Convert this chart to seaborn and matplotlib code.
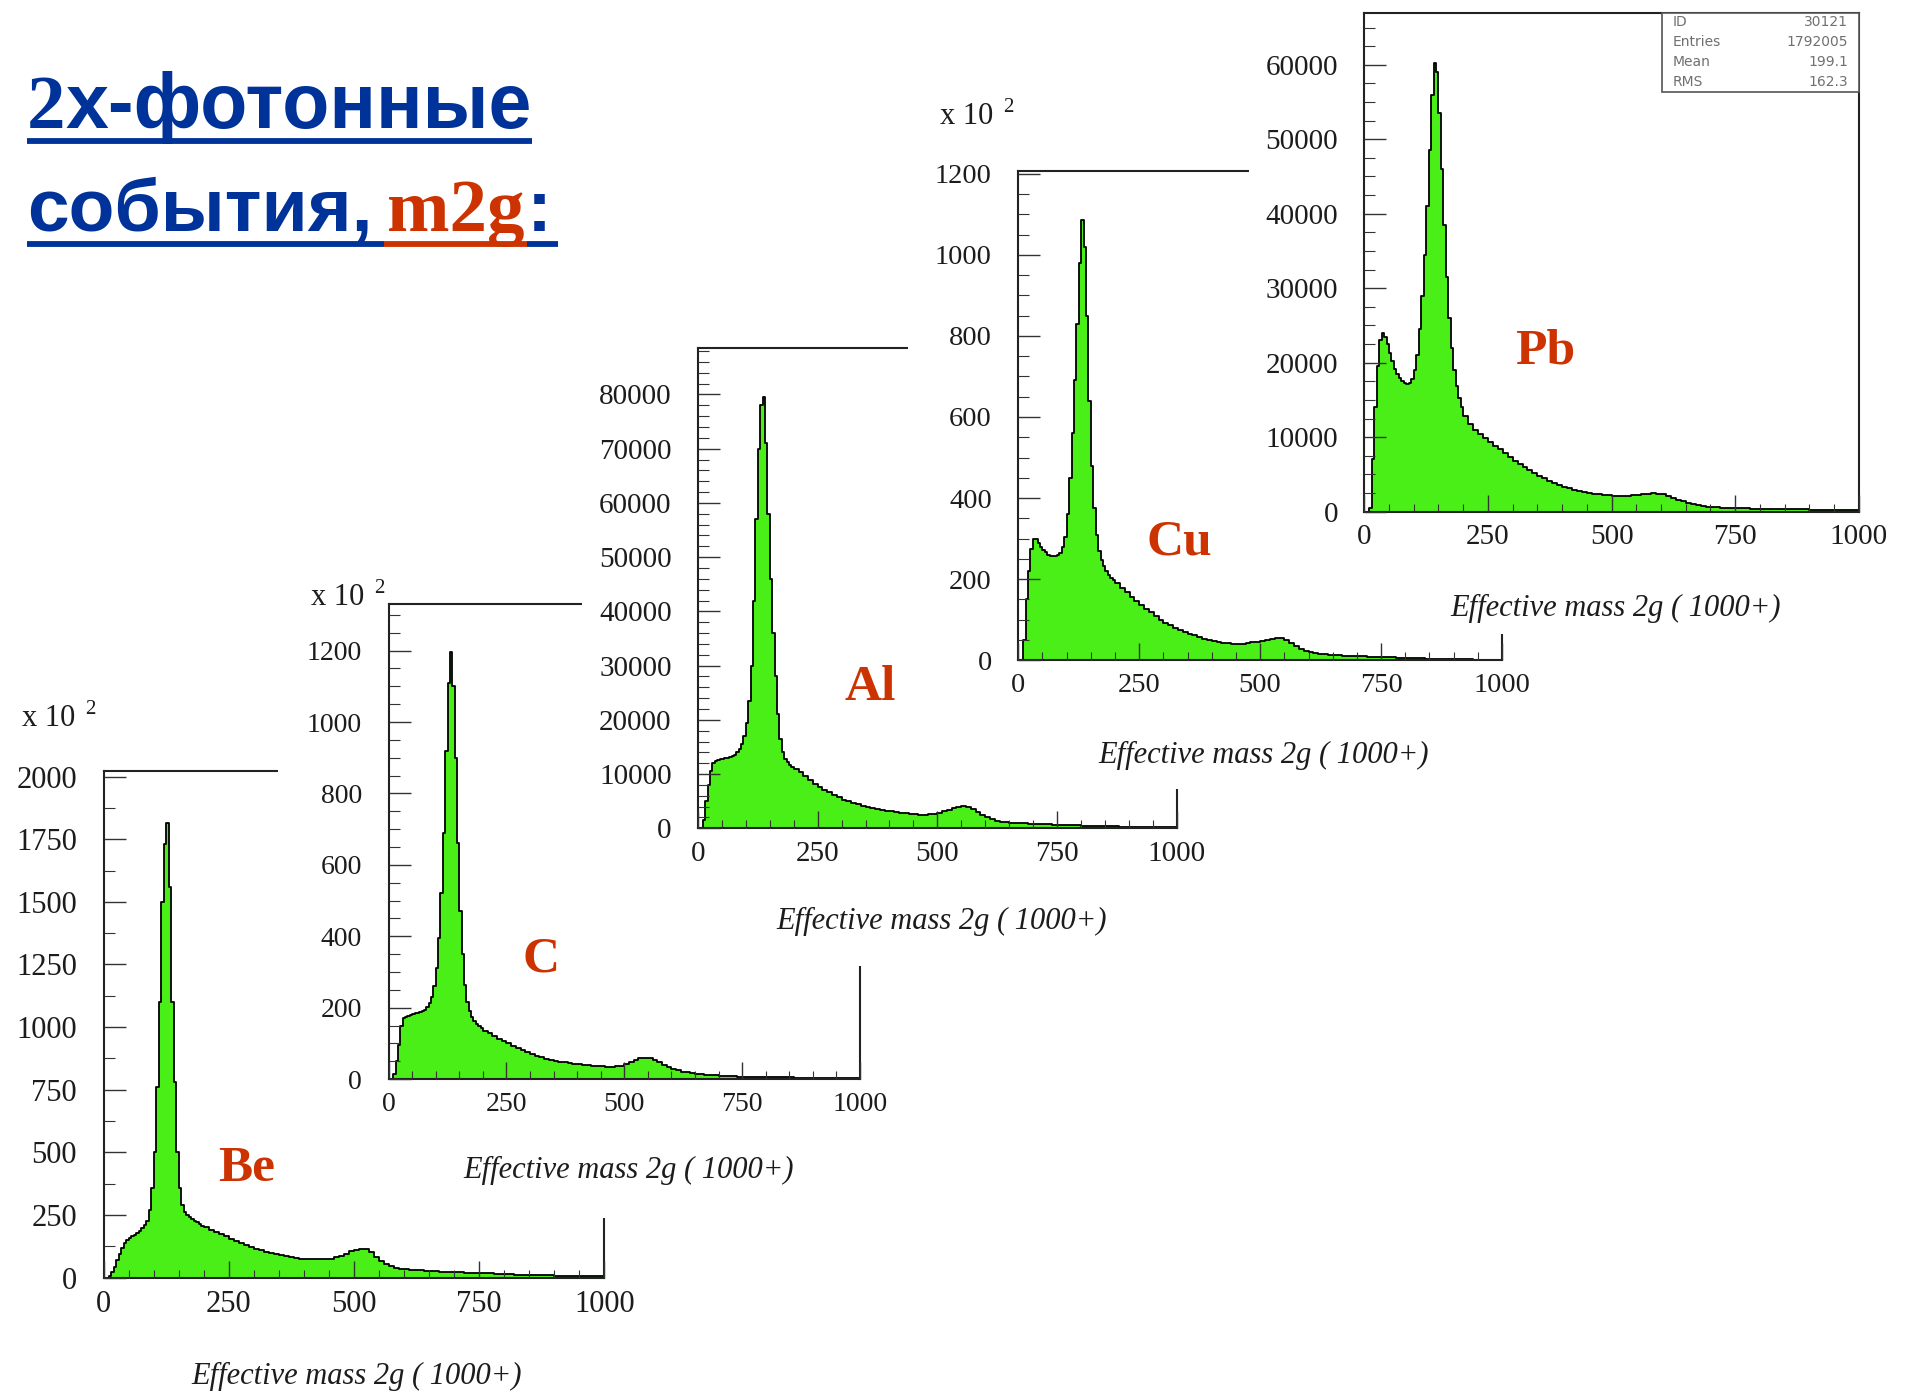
import matplotlib
matplotlib.use("Agg")
import matplotlib.pyplot as plt
import seaborn as sns
from matplotlib.patches import Rectangle
from matplotlib.lines import Line2D
from matplotlib.ticker import MultipleLocator, FuncFormatter

# Effective-mass binning: 5-unit bins up to 200, 10-unit bins to 700, 20-unit bins above
mass_edges = list(range(0, 200, 5)) + list(range(200, 700, 10)) + list(range(700, 1001, 20))
mass_centers = [(a + b) / 2 for a, b in zip(mass_edges[:-1], mass_edges[1:])]

# Bin contents per target (Be, C, Cu in units of 10^2 entries)
be_counts = [0, 0, 8, 25, 45, 70, 95, 120, 140, 150,
             160, 166, 172, 180, 188, 198, 210, 228, 270, 360,
             500, 760, 1100, 1500, 1730, 1815, 1560, 1100, 780, 500,
             360, 290, 262, 250, 243, 236, 228, 222, 215, 208,
             202, 192, 183, 174, 165, 156, 147, 138, 130, 122,
             115, 109, 103, 98, 94, 90, 86, 83, 80, 77,
             75, 74, 74, 74, 75, 77, 81, 87, 95, 105,
             112, 116, 113, 102, 84, 68, 55, 47, 41, 37,
             35, 33, 31, 30, 29, 27, 26, 25, 24, 23,
             22, 20, 19, 18, 16, 15, 13, 12, 11, 10, 9, 9, 8, 7, 7]

c_counts = [0, 0, 15, 50, 95, 150, 170, 174, 177, 180,
            182, 184, 186, 189, 191, 195, 202, 214, 230, 260,
            310, 395, 520, 690, 920, 1110, 1195, 1100, 900, 660,
            470, 350, 265, 215, 190, 175, 163, 155, 148, 142,
            136, 128, 120, 113, 106, 100, 93, 87, 81, 75,
            70, 65, 61, 57, 54, 51, 49, 47, 45, 43,
            42, 40, 39, 38, 37, 36, 35, 35, 36, 38,
            42, 48, 54, 58, 60, 59, 55, 49, 41, 33,
            28, 25, 21, 19, 17, 15, 14, 13, 12, 11,
            9, 8, 7, 7, 6, 6, 5, 5, 4, 4, 3, 3, 3, 2, 2]

al_counts = [0, 0, 1500, 5000, 8000, 10500, 12000, 12500, 12600, 12700,
             12800, 12900, 13000, 13100, 13300, 13600, 14000, 14600, 15500, 17000,
             19500, 23500, 30000, 42000, 57000, 70000, 78000, 79500, 71000, 58000,
             46000, 36000, 28000, 21000, 16500, 14000, 12800, 12200, 11700, 11300,
             11000, 10300, 9600, 8900, 8250, 7700, 7150, 6650, 6150, 5700,
             5300, 4950, 4650, 4400, 4150, 3900, 3700, 3550, 3400, 3250,
             3100, 2980, 2870, 2760, 2660, 2570, 2520, 2520, 2580, 2680,
             2850, 3100, 3450, 3800, 4000, 4070, 3900, 3500, 3000, 2500,
             2050, 1700, 1400, 1200, 1080, 1000, 960, 930, 900, 880,
             820, 750, 680, 610, 550, 500, 450, 400, 360, 320, 270, 220, 180, 160, 150]

cu_counts = [0, 0, 50, 150, 220, 275, 298, 300, 290, 280,
             272, 266, 260, 257, 256, 257, 260, 265, 280, 305,
             360, 450, 560, 690, 830, 980, 1085, 1020, 850, 640,
             480, 375, 310, 270, 248, 232, 220, 211, 204, 198,
             190, 179, 168, 157, 147, 137, 127, 118, 109, 100,
             92, 86, 80, 74, 69, 65, 61, 57, 53, 50,
             47, 45, 43, 42, 41, 41, 41, 42, 44, 46,
             48, 50, 53, 55, 54, 49, 42, 34, 27, 22,
             19, 17, 16, 15, 14, 13, 12, 11.5, 11, 10.5,
             9.5, 8.5, 7.5, 7, 6, 5.5, 5, 4, 3.5, 3, 2.5, 2, 1.5, 1, 1]

pb_counts = [0, 0, 500, 7000, 14000, 19500, 23000, 24000, 23500, 22500,
             21300, 20200, 19200, 18500, 18000, 17600, 17300, 17200, 17300, 17800,
             19000, 21000, 24500, 29000, 34500, 41000, 48500, 56000, 60300, 59000,
             53500, 46000, 38500, 31500, 26000, 22000, 19000, 16800, 15200, 14000,
             12900, 11800, 11000, 10400, 9850, 9350, 8850, 8350, 7850, 7350,
             6850, 6400, 5950, 5550, 5150, 4800, 4450, 4150, 3850, 3600,
             3350, 3150, 2950, 2780, 2630, 2500, 2400, 2300, 2230, 2170,
             2120, 2090, 2090, 2120, 2180, 2260, 2340, 2420, 2460, 2420,
             2300, 2080, 1850, 1600, 1380, 1180, 1000, 850, 730, 650,
             560, 490, 450, 420, 395, 375, 355, 335, 315, 290, 265, 240, 210, 185, 160]

targets = ["Be", "C", "Al", "Cu", "Pb"]
stats_names = ["ID", "Entries", "Mean", "RMS"]
stats_values = ["30121", "1792005", "199.1", "162.3"]
x_title = "Effective mass 2g ( 1000+)"

GREEN = "#4aef17"
RED = "#cc3300"
BLUE = "#003399"
INK = "#1c1c1c"

sns.set_theme(style="white")
plt.rcParams["font.family"] = ["Liberation Serif", "DejaVu Serif"]

W, H = 1910, 1393
fig = plt.figure(figsize=(W / 100, H / 100), dpi=100)
fig.patch.set_facecolor("white")


def frac(x, y):
    return x / W, 1 - y / H


def rect(left, top, right, bottom):
    return [left / W, 1 - bottom / H, (right - left) / W, (bottom - top) / H]


panels = [
    dict(counts=be_counts, ytop=2022, ymajor=250, yminor=125, tick_size=22,
         frame=(103.5, 771, 604.2, 1277.8), backdrop=None,
         label_xy=(247, 1169), xlabel_xy=(357, 1376), exp_xy=(22, 719)),
    dict(counts=c_counts, ytop=1330, ymajor=200, yminor=50, tick_size=20,
         frame=(388.6, 604.2, 860, 1079.2), backdrop=(277.7, 560, 930, 1218),
         label_xy=(541, 960), xlabel_xy=(629, 1170), exp_xy=(311, 598)),
    dict(counts=al_counts, ytop=88500, ymajor=10000, yminor=2000, tick_size=21,
         frame=(698, 348.4, 1176.7, 828.3), backdrop=(582, 330, 1200, 966),
         label_xy=(870, 688), xlabel_xy=(942, 921), exp_xy=None),
    dict(counts=cu_counts, ytop=1208, ymajor=200, yminor=50, tick_size=20.5,
         frame=(1018.3, 170.5, 1502, 660.2), backdrop=(907.5, 90, 1540, 789),
         label_xy=(1179, 543), xlabel_xy=(1264, 755), exp_xy=(940, 117)),
    dict(counts=pb_counts, ytop=66900, ymajor=10000, yminor=2500, tick_size=21,
         frame=(1364.3, 13.4, 1858.8, 511.6), backdrop=(1248.6, 0, 1910, 634),
         label_xy=(1545, 352), xlabel_xy=(1616, 608), exp_xy=None),
]

int_fmt = FuncFormatter(lambda v, _: f"{int(round(v))}")
pb_ax = None
for i, (name, p) in enumerate(zip(targets, panels)):
    z = 2 * i + 1
    if p["backdrop"] is not None:
        bg = fig.add_axes(rect(*p["backdrop"]), zorder=z - 1)
        bg.set_facecolor("white")
        bg.set_xticks([])
        bg.set_yticks([])
        for s in bg.spines.values():
            s.set_visible(False)

    ax = fig.add_axes(rect(*p["frame"]), zorder=z)
    ax.set_facecolor("white")
    sns.histplot(x=mass_centers, weights=p["counts"], bins=mass_edges,
                 element="step", fill=True, facecolor=GREEN,
                 edgecolor="black", linewidth=1.3, alpha=1, ax=ax)
    ax.set_xlim(0, 1000)
    ax.set_ylim(0, p["ytop"])
    ax.set_xlabel("")
    ax.set_ylabel("")
    ax.set_axisbelow(False)
    ax.grid(False)

    ax.xaxis.set_major_locator(MultipleLocator(250))
    ax.xaxis.set_minor_locator(MultipleLocator(50))
    ax.yaxis.set_major_locator(MultipleLocator(p["ymajor"]))
    ax.yaxis.set_minor_locator(MultipleLocator(p["yminor"]))
    ax.xaxis.set_major_formatter(int_fmt)
    ax.yaxis.set_major_formatter(int_fmt)
    ax.tick_params(which="both", direction="in", top=False, right=False,
                   bottom=True, left=True, color="#333333")
    ax.tick_params(axis="x", which="major", length=12, width=1.0, pad=9,
                   labelsize=p["tick_size"], labelcolor=INK)
    ax.tick_params(axis="x", which="minor", length=6, width=0.8)
    ax.tick_params(axis="y", which="major", length=16, width=1.0, pad=19,
                   labelsize=p["tick_size"], labelcolor=INK)
    ax.tick_params(axis="y", which="minor", length=8, width=0.8)
    for s in ax.spines.values():
        s.set_visible(True)
        s.set_color("#222222")
        s.set_linewidth(1.5)

    ax.text(*frac(*p["xlabel_xy"]), x_title, transform=fig.transFigure,
            ha="center", va="center", fontsize=22, fontstyle="italic",
            color=INK, clip_on=False)
    if p["exp_xy"] is not None:
        ex, ey = p["exp_xy"]
        ax.text(*frac(ex, ey), "x 10", transform=fig.transFigure, ha="left",
                va="center", fontsize=22, color=INK, clip_on=False)
        ax.text(*frac(ex + 63, ey - 10), "2", transform=fig.transFigure,
                ha="left", va="center", fontsize=15, color=INK, clip_on=False)

    fig.text(*frac(*p["label_xy"]), name, ha="center", va="center",
             fontsize=37, fontweight="bold", color=RED, zorder=50)
    pb_ax = ax

# Statistics box of the last histogram
pb_ax.add_patch(Rectangle((0.602, 0.842), 0.398, 0.158, transform=pb_ax.transAxes,
                          facecolor="white", edgecolor="#555555", linewidth=1.2,
                          zorder=5, clip_on=False))
for k, (nm, val) in enumerate(zip(stats_names, stats_values)):
    yy = 21.5 + 20 * k
    pb_ax.text(*frac(1673, yy), nm, transform=fig.transFigure, ha="left", va="center",
               fontsize=10, family="DejaVu Sans", color="#707070", zorder=6)
    pb_ax.text(*frac(1848, yy), val, transform=fig.transFigure, ha="right", va="center",
               fontsize=10, family="DejaVu Sans", color="#707070", zorder=6)

# Heading with underline
renderer = fig.canvas.get_renderer()
TS1, TS2 = 55.5, 54
x0 = 27
base1, base2 = 128, 231
t1a = fig.text(*frac(x0, base1), "2", fontsize=TS1, fontweight="bold",
               family="Liberation Serif", color=BLUE, va="baseline", zorder=60)
bb = t1a.get_window_extent(renderer)
t1b = fig.text(bb.x1 / W, 1 - base1 / H, "х-фотонные", fontsize=TS1, fontweight="bold",
               family="Liberation Sans", color=BLUE, va="baseline", zorder=60)
end1 = t1b.get_window_extent(renderer).x1

t2a = fig.text(*frac(x0, base2), "события,", fontsize=TS2, fontweight="bold",
               family="Liberation Sans", color=BLUE, va="baseline", zorder=60)
e2a = t2a.get_window_extent(renderer).x1
m_start = e2a + 14
t2b = fig.text(m_start / W, 1 - base2 / H, "m2g", fontsize=TS2, fontweight="bold",
               family="Liberation Serif", color=RED, va="baseline", zorder=60)
e2b = t2b.get_window_extent(renderer).x1
t2c = fig.text((e2b + 3) / W, 1 - base2 / H, ":", fontsize=TS2, fontweight="bold",
               family="Liberation Sans", color=BLUE, va="baseline", zorder=60)
e2c = t2c.get_window_extent(renderer).x1

ul1, ul2 = base1 + 13, base2 + 13
for xa, xb, yy, col in [(x0, end1, ul1, BLUE), (x0, m_start - 3, ul2, BLUE),
                        (m_start - 3, e2b + 3, ul2, RED), (e2b + 3, e2c + 6, ul2, BLUE)]:
    fig.add_artist(Line2D([xa / W, xb / W], [1 - yy / H] * 2, transform=fig.transFigure,
                          color=col, linewidth=4.2, solid_capstyle="butt", zorder=60))

fig.savefig("out.png", dpi=100, facecolor="white")
